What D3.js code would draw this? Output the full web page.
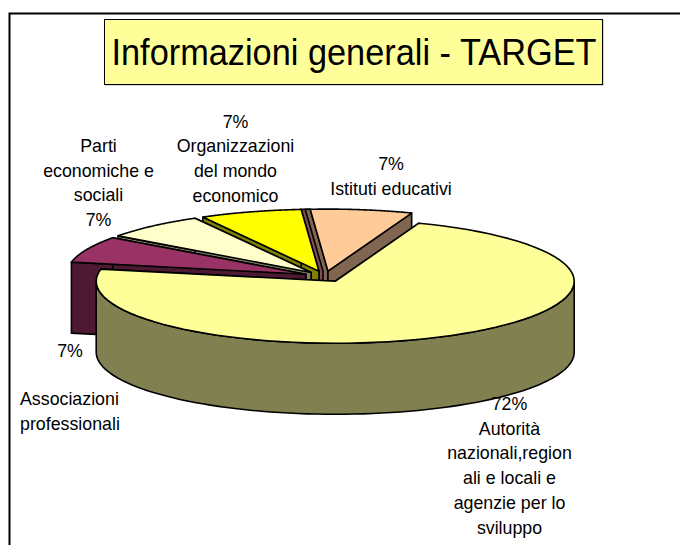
<!DOCTYPE html>
<html><head><meta charset="utf-8">
<script src="https://cdn.jsdelivr.net/npm/d3@7"></script>
<style>html,body{margin:0;padding:0;background:#fff}svg{display:block}text{font-family:"Liberation Sans",Arial,sans-serif;fill:#000}</style>
</head><body><svg id="c" width="680" height="545"></svg>
<script>
const categories=["Autorità nazionali,regionali e locali e agenzie per lo sviluppo","Associazioni professionali","Parti economiche e sociali","Organizzazioni del mondo economico","Istituti educativi"];
const values=[72.45,6.89,6.89,6.89,6.88];
const topColors=["#FFFF99","#993366","#FFFFCC","#FFFF00","#FFCC99"];
const sideColors=["#808050","#4D1933","#808066","#808000","#806650"];
const stripColor="#804D59";
const percentLabels=["72%","7%","7%","7%","7%"];
const labelLines=[["72%","Autorità","nazionali,region","ali e locali e","agenzie per lo","sviluppo"],["Associazioni","professionali"],["Parti","economiche e","sociali","7%"],["7%","Organizzazioni","del mondo","economico"],["7%","Istituti educativi"]];
const labelPos=[[509.5,410],[20,405],[98.5,152],[235.5,127.5],[391,170]];
const labelAnchor=["middle","start","middle","middle","middle"];
const titleText="Informazioni generali - TARGET";

const svg=d3.select("#c");
const cx=325,cy=276.5,rx=239,ry=62,depth=71,explode=21,startDeg=20.5,stripW=5;
const sx=d3.scaleLinear().domain([-1,1]).range([-rx,rx]);
const sy=d3.scaleLinear().domain([-1,1]).range([-ry,ry]);
const pie=d3.pie().sort(null).value(d=>d).startAngle(startDeg*Math.PI/180).endAngle((startDeg+360)*Math.PI/180);
const arcs=pie(values);
const pt=(a,r=1)=>[sx(Math.sin(a)*r),sy(-Math.cos(a)*r)];
const line=d3.line();
function rim(a0,a1,n=80){return d3.range(n+1).map(i=>pt(a0+(a1-a0)*i/n));}

// frame
svg.append("path").attr("d","M9.5,545V13.5H680").attr("fill","none").attr("stroke","#000").attr("stroke-width",2);

// painter order: back to front
const order=[4,3,2,1,0];
const strokeAttrs=s=>s.attr("stroke","#000").attr("stroke-width",1.6).attr("stroke-linejoin","round");
order.forEach(i=>{
  const a=arcs[i],mid=(a.startAngle+a.endAngle)/2;
  const off=pt(mid,explode/rx);
  const g=svg.append("g").attr("transform",`translate(${cx+off[0]},${cy+off[1]})`);
  const shift=p=>[p[0],p[1]+depth];
  if(i===4){
    // the slim maroon and brown strips on the left edge of the back slice
    const e=pt(a.startAngle);
    [[2,stripColor],[1,sideColors[4]]].forEach(([k,col])=>{
      const w=stripW*k;
      strokeAttrs(g.append("path").attr("d",line([e,[0,0],[0,depth/4],[-w,depth/4],[-w,0],[e[0]-w,e[1]]])+"Z").attr("fill",col));
    });
    const e2=pt(a.endAngle);
    strokeAttrs(g.append("path").attr("d",line([[0,0],e2,shift(e2),[0,depth]])+"Z").attr("fill",sideColors[i]));
  } else {
    [a.startAngle,a.endAngle].forEach(w=>{
      const e=pt(w);
      strokeAttrs(g.append("path").attr("d",line([[0,0],e,shift(e),[0,depth]])+"Z").attr("fill",sideColors[i]));
    });
  }
  // outer curved wall: only the front half of the rim
  const frontA=Math.max(a.startAngle,Math.PI/2),frontB=Math.min(a.endAngle,Math.PI*1.5);
  const wrapA=a.startAngle-2*Math.PI,wrapB=a.endAngle-2*Math.PI;
  [[frontA,frontB],[Math.max(wrapA,Math.PI/2),Math.min(wrapB,Math.PI*1.5)]].forEach(([p,q])=>{
    if(q>p){const r=rim(p,q);
      strokeAttrs(g.append("path").attr("d",line(r.concat(r.map(shift).reverse()))+"Z").attr("fill",sideColors[i]));}
  });
  const top=[[0,0]].concat(rim(a.startAngle,a.endAngle));
  strokeAttrs(g.append("path").attr("d",line(top)+"Z").attr("fill",topColors[i]));
});

// title
svg.append("rect").attr("x",105).attr("y",20).attr("width",499).attr("height",66).attr("fill","#BBBBBB").attr("opacity",0.6);
svg.append("rect").attr("x",104.5).attr("y",19.5).attr("width",498).attr("height",65).attr("fill","#FFFF99").attr("stroke","#000").attr("stroke-width",1);
svg.append("text").attr("x",354).attr("y",65).attr("text-anchor","middle").attr("font-size",36).attr("textLength",485).attr("lengthAdjust","spacingAndGlyphs").text(titleText);

// labels
labelLines.forEach((ls,i)=>{
  const t=svg.append("text").attr("font-size",17.8).attr("text-anchor",labelAnchor[i]);
  ls.forEach((l,j)=>t.append("tspan").attr("x",labelPos[i][0]).attr("y",labelPos[i][1]+j*24.7).text(l));
});
svg.append("text").attr("x",70).attr("y",357).attr("font-size",17.8).attr("text-anchor","middle").text(percentLabels[1]);
</script></body></html>
